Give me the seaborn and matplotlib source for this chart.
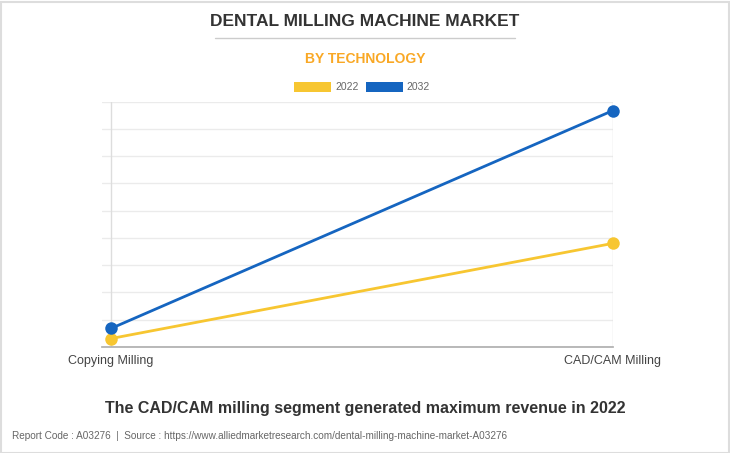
import numpy as np
import pandas as pd
import matplotlib
matplotlib.use("Agg")
import matplotlib.pyplot as plt
import seaborn as sns
from matplotlib.patches import Patch, Rectangle
from matplotlib.lines import Line2D

# values (the source shows no y scale, so units are arbitrary)
segments = ["Copying Milling", "CAD/CAM Milling"]
years = ["2022", "2032"]
values_2022 = [31, 380]
values_2032 = [68, 867]
colors = {"2022": "#F7C631", "2032": "#1565C0"}

df = pd.DataFrame({
    "segment": segments * 2,
    "year": [years[0]] * len(segments) + [years[1]] * len(segments),
    "value": values_2022 + values_2032,
})

sns.set_theme(style="white")
plt.rcParams["font.family"] = ["Liberation Sans", "DejaVu Sans"]

W, H = 730, 453
fig = plt.figure(figsize=(W / 100, H / 100), dpi=100, facecolor="white")
ax = fig.add_axes([102 / W, (H - 347) / H, (613 - 102) / W, (347 - 101.5) / H])

sns.lineplot(data=df, x="segment", y="value", hue="year", palette=colors,
             marker="o", markersize=9, markeredgewidth=0, linewidth=2,
             legend=False, ax=ax, zorder=5)
for ln in ax.lines:
    ln.set_clip_on(False)

ax.set_xlim(-9 / 502, 1.0)
ax.set_ylim(0, 900)
ax.set_yticks(np.arange(0, 901, 100))
ax.yaxis.grid(True, color="#ebebeb", linewidth=1)
ax.set_yticklabels([])
ax.tick_params(axis="both", length=0)
ax.tick_params(axis="x", labelsize=9, colors="#444444", pad=6)
for x in [0, 1]:
    ax.axvline(x, color="#dddddd", linewidth=1, zorder=1)
for s in ["top", "right", "left"]:
    ax.spines[s].set_visible(False)
ax.spines["bottom"].set_color("#b0b0b0")
ax.set_xlabel("")
ax.set_ylabel("")

fig.text(0.5, 1 - 21.5 / H, "DENTAL MILLING MACHINE MARKET", ha="center", va="center",
         fontsize=12.5, fontweight="bold", color="#333333")
fig.add_artist(Line2D([215 / W, 515 / W], [1 - 37.5 / H] * 2, color="#cccccc", linewidth=1))
fig.text(0.5, 1 - 59 / H, "BY TECHNOLOGY", ha="center", va="center",
         fontsize=10, fontweight="bold", color="#F9A825")

handles = [Patch(facecolor=colors[y], edgecolor="none", label=y) for y in years]
leg = fig.legend(handles=handles, loc="center", bbox_to_anchor=(362 / W, 1 - 87 / H),
                 ncol=2, frameon=False, fontsize=7.5, handlelength=3.6, handleheight=1.1,
                 handletextpad=0.35, columnspacing=0.7)
for t in leg.get_texts():
    t.set_color("#666666")

fig.text(0.5, 1 - 408 / H, "The CAD/CAM milling segment generated maximum revenue in 2022",
         ha="center", va="center", fontsize=11.5, fontweight="bold", color="#333333")
fig.text(12 / W, 1 - 436 / H,
         "Report Code : A03276  |  Source : https://www.alliedmarketresearch.com/dental-milling-machine-market-A03276",
         ha="left", va="center", fontsize=7.2, color="#666666")

fig.add_artist(Rectangle((0.5 / W, 0.5 / H), 1 - 1.5 / W, 1 - 2.5 / H, transform=fig.transFigure,
                         fill=False, edgecolor="#dddddd", linewidth=1.5))

fig.savefig("out.png", dpi=100, facecolor="white")
